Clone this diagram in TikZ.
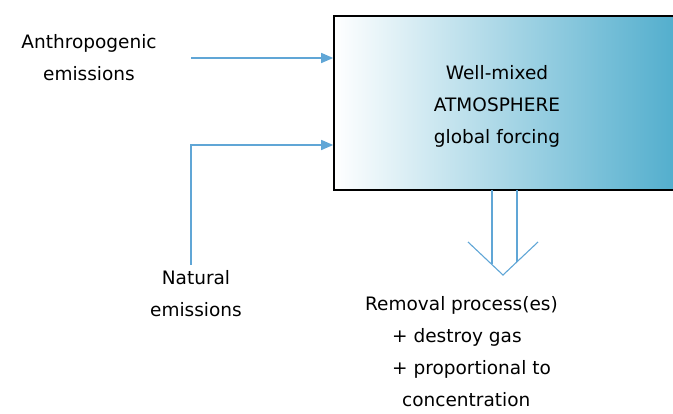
\documentclass[tikz,border=0pt]{standalone}
\usepackage{fontspec}
\setmainfont{DejaVu Sans}
\usetikzlibrary{arrows.meta}

\definecolor{flowblue}{RGB}{96,166,214}
\definecolor{atmocyan}{RGB}{78,172,204}

\tikzset{
    label text/.style={font=\fontsize{18.5}{32}\selectfont, align=center, inner sep=0pt},
    atmobox/.style={draw=black, line width=1.6pt, left color=white, right color=atmocyan,
        minimum width=350pt, minimum height=174pt, inner sep=0pt},
    flow/.style={draw=flowblue, line width=1.3pt, -{Triangle[length=12pt,width=10pt]}},
    outflow/.style={draw=flowblue, line width=1.1pt}
}

\begin{document}
\begin{tikzpicture}[x=1pt,y=-1pt]
    \useasboundingbox (0,0) rectangle (673,414);

    % The well-mixed atmosphere box
    \node[atmobox] (atmo) at (509,103) {};
    \node[label text] (atmotext) at (497,106) {Well-mixed\\ATMOSPHERE\\global forcing};

    % Sources
    \node[label text] (anthro) at (89,58) {Anthropogenic\\emissions};
    \node[label text] (natural) at (196,294) {Natural\\emissions};

    \coordinate (anthroout) at (191,58);
    \coordinate (naturalout) at (191,265);
    \coordinate (naturalbend) at (191,145);

    \draw[flow] (anthroout) -- (atmo.west |- anthroout);
    \draw[flow] (naturalout) -- (naturalbend) -- (atmo.west |- naturalbend);

    % Hollow arrow down to the sink
    \draw[outflow] (492,190) -- (492,264.5);
    \draw[outflow] (517,190) -- (517,262);
    \draw[outflow] (468,242) -- (503,275) -- (538,242);

    % Sink
    \node[label text, align=left, anchor=west] (removal) at (365,352)
        {Removal process(es)\\
         \hspace*{27pt}+ destroy gas\\
         \hspace*{27pt}+ proportional to\\
         \hspace*{37pt}concentration};
\end{tikzpicture}
\end{document}
